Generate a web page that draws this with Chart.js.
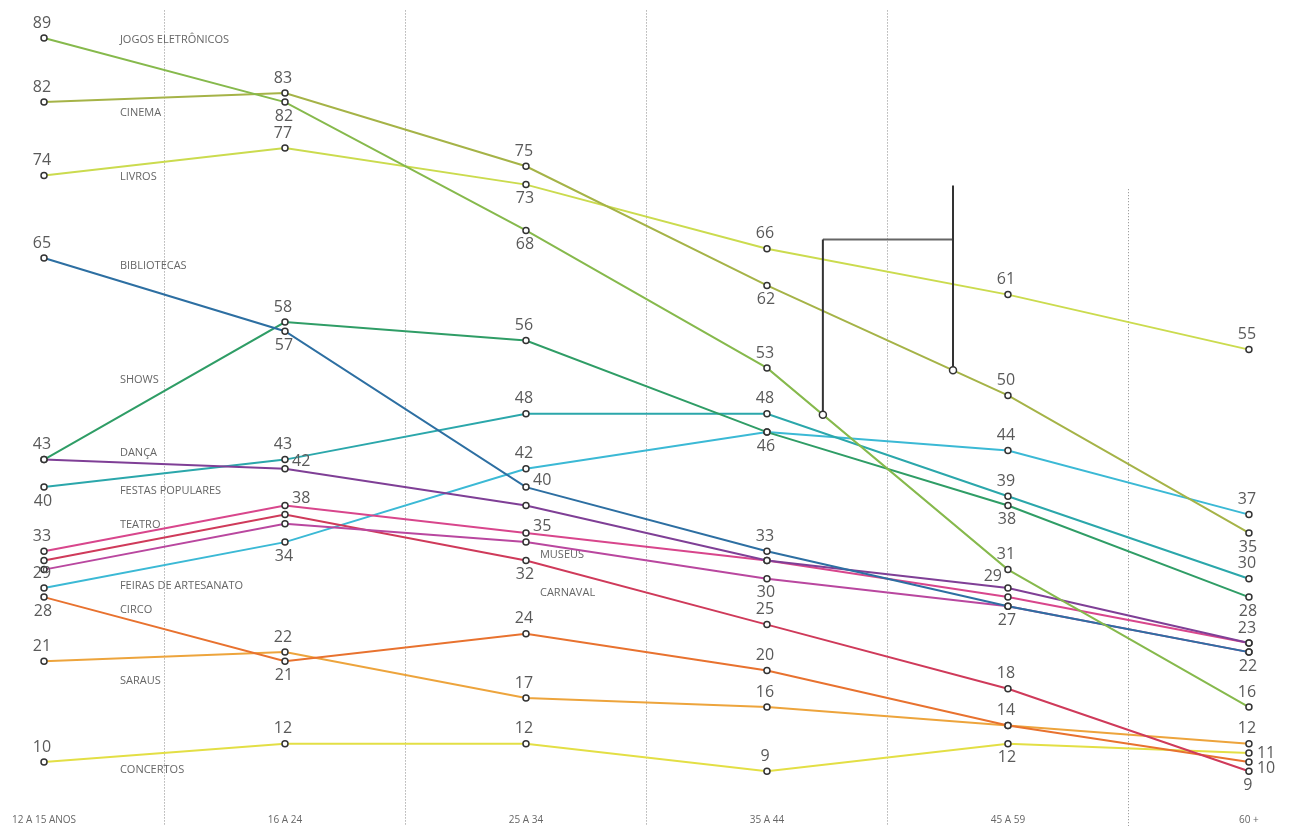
<!DOCTYPE html>
<html>
<head>
<meta charset="utf-8">
<script src="https://cdn.jsdelivr.net/npm/chart.js@4"></script>
<style>
  html, body { margin: 0; padding: 0; background: #fff; }
  #wrap { width: 1294px; height: 826px; }
</style>
</head>
<body>
<div id="wrap"><canvas id="chart"></canvas></div>
<script>
// age groups on the x axis
const ageGroups = ['12 A 15 ANOS', '16 A 24', '25 A 34', '35 A 44', '45 A 59', '60 +'];

// percentages per activity, one value per age group
const jogos = [89, 82, 68, 53, 31, 16];
const cinema = [82, 83, 75, 62, 50, 35];
const livros = [74, 77, 73, 66, 61, 55];
const bibliotecas = [65, 57, 40, 33, 27, 22];
const shows = [43, 58, 56, 46, 38, 28];
const danca = [43, 42, 38, 32, 29, 23];
const festas = [40, 43, 48, 48, 39, 30];
const teatro = [33, 38, 35, 32, 28, 23];
const museus = [31, 36, 34, 30, 27, 22];
const carnaval = [32, 37, 32, 25, 18, 9];
const feiras = [29, 34, 42, 46, 44, 37];
const circo = [28, 21, 24, 20, 14, 10];
const saraus = [21, 22, 17, 16, 14, 12];
const concertos = [10, 12, 12, 9, 12, 11];

// name, values, colour, where each number goes, where the name goes
// a above, b below, r right-up, rm right, rd right-down, l left-up
const series = [
  { name: 'JOGOS ELETRÔNICOS', data: jogos, color: '#86b94c', tags: ['a', 'b', 'b', 'a', 'a', 'a'], spot: [0.315, 88.8] },
  { name: 'CINEMA', data: cinema, color: '#a5b347', tags: ['a', 'a', 'a', 'b', 'a', 'b'], spot: [0.315, 80.8] },
  { name: 'LIVROS', data: livros, color: '#cbdb4e', tags: ['a', 'a', 'b', 'a', 'a', 'a'], spot: [0.315, 73.8] },
  { name: 'BIBLIOTECAS', data: bibliotecas, color: '#2d6fa2', tags: ['a', 'b', 'r', 'a', null, 'b'], spot: [0.315, 64.1] },
  { name: 'SHOWS', data: shows, color: '#2f9d66', tags: ['a', 'a', 'a', 'b', 'b', 'b'], spot: [0.315, 51.7] },
  { name: 'DANÇA', data: danca, color: '#7f3f96', tags: [null, 'r', null, null, 'l', 'a'], spot: [0.315, 43.7] },
  { name: 'FESTAS POPULARES', data: festas, color: '#2ba7ab', tags: ['b', 'a', 'a', 'a', 'a', 'a'], spot: [0.315, 39.6] },
  { name: 'TEATRO', data: teatro, color: '#d8468c', tags: ['a', 'r', 'r', null, null, null], spot: [0.315, 35.9] },
  { name: 'MUSEUS', data: museus, color: '#b9479f', tags: [null, null, null, 'b', 'b', null], spot: [2.058, 32.6] },
  { name: 'CARNAVAL', data: carnaval, color: '#cf3a5a', tags: [null, null, 'b', 'a', 'a', 'b'], spot: [2.058, 28.5] },
  { name: 'FEIRAS DE ARTESANATO', data: feiras, color: '#3bb9d5', tags: ['a', 'b', 'a', null, 'a', 'a'], spot: [0.315, 29.2] },
  { name: 'CIRCO', data: circo, color: '#e8722f', tags: ['b', 'b', 'a', 'a', 'a', 'rd'], spot: [0.315, 26.6] },
  { name: 'SARAUS', data: saraus, color: '#eda43c', tags: ['a', 'a', 'a', 'a', null, 'a'], spot: [0.315, 18.9] },
  { name: 'CONCERTOS', data: concertos, color: '#e3df45', tags: ['a', 'a', 'a', 'a', 'b', 'rm'], spot: [0.315, 9.2] }
];

// the bracket drawn between the crossing lines
const bracket = { left: 3.232, right: 3.772, bar: 67, top: 72.9 };

function lineAt(data, x) {
  const i = Math.floor(x);
  const t = x - i;
  return data[i] + (data[i + 1] - data[i]) * t;
}

const decor = {
  id: 'decor',
  beforeDatasetsDraw(chart) {
    const { ctx, scales: { x, y }, chartArea } = chart;
    ctx.save();
    ctx.strokeStyle = '#8a8a8a';
    ctx.lineWidth = 1;
    ctx.setLineDash([1, 2]);
    for (let i = 0; i < ageGroups.length - 1; i++) {
      const px = Math.round(x.getPixelForValue(i + 0.5)) + 0.5;
      const top = i === ageGroups.length - 2 ? y.getPixelForValue(72.5) : y.getPixelForValue(92);
      ctx.beginPath();
      ctx.moveTo(px, top);
      ctx.lineTo(px, chartArea.bottom);
      ctx.stroke();
    }
    ctx.setLineDash([]);

    // x axis labels
    ctx.fillStyle = '#666';
    ctx.font = '10px "Open Sans"';
    ctx.textBaseline = 'middle';
    ctx.textAlign = 'left';
    ageGroups.forEach((g, i) => {
      const w = ctx.measureText(g).width;
      let left = x.getPixelForValue(i) - w / 2;
      left = Math.max(8, Math.min(left, chartArea.right - w - 8));
      ctx.fillText(g, left, chartArea.bottom - 6);
    });

    // activity names
    ctx.font = '11px "Open Sans"';
    ctx.fillStyle = '#666';
    series.forEach(s => {
      ctx.fillText(s.name, x.getPixelForValue(s.spot[0]), y.getPixelForValue(s.spot[1]));
    });
    ctx.restore();
  },
  afterDatasetsDraw(chart) {
    const { ctx, scales: { x, y } } = chart;
    ctx.save();

    // bracket
    const lx = x.getPixelForValue(bracket.left);
    const rx = x.getPixelForValue(bracket.right);
    const ly = y.getPixelForValue(lineAt(jogos, bracket.left));
    const ry = y.getPixelForValue(lineAt(cinema, bracket.right));
    const by = y.getPixelForValue(bracket.bar);
    const ty = y.getPixelForValue(bracket.top);
    ctx.lineWidth = 2;
    ctx.strokeStyle = '#666';
    ctx.beginPath();
    ctx.moveTo(lx, by);
    ctx.lineTo(rx, by);
    ctx.stroke();
    ctx.strokeStyle = '#333';
    ctx.beginPath();
    ctx.moveTo(lx, ly);
    ctx.lineTo(lx, by);
    ctx.moveTo(rx, ty);
    ctx.lineTo(rx, ry);
    ctx.stroke();
    ctx.lineWidth = 1.5;
    ctx.fillStyle = '#fff';
    [[lx, ly], [rx, ry]].forEach(([px, py]) => {
      ctx.beginPath();
      ctx.arc(px, py, 3.5, 0, Math.PI * 2);
      ctx.fill();
      ctx.stroke();
    });

    // value numbers
    ctx.font = '16px "Open Sans"';
    ctx.fillStyle = '#5a5a5a';
    ctx.textBaseline = 'middle';
    series.forEach(s => {
      s.data.forEach((v, i) => {
        const tag = s.tags[i];
        if (!tag) return;
        const px = x.getPixelForValue(i);
        const py = y.getPixelForValue(v);
        ctx.textAlign = 'center';
        if (tag === 'a') {
          ctx.fillText(v, px - 2, py - 15);
        } else if (tag === 'b') {
          ctx.fillText(v, px - 1, py + 14);
        } else if (tag === 'l') {
          ctx.textAlign = 'right';
          ctx.fillText(v, px - 6, py - 12);
        } else {
          ctx.textAlign = 'left';
          const dy = tag === 'r' ? -7 : tag === 'rm' ? 0 : 6;
          ctx.fillText(v, px + (tag === 'r' ? 7 : 8), py + dy);
        }
      });
    });
    ctx.restore();
  }
};

new Chart(document.getElementById('chart'), {
  type: 'line',
  data: {
    datasets: series.map(s => ({
      label: s.name,
      data: s.data.map((v, i) => ({ x: i, y: v })),
      borderColor: s.color,
      borderWidth: 2,
      pointRadius: 3,
      pointBorderWidth: 1.5,
      pointBorderColor: '#333',
      pointBackgroundColor: '#fff',
      tension: 0,
      clip: false
    }))
  },
  options: {
    responsive: true,
    maintainAspectRatio: false,
    animation: false,
    layout: { padding: 0, autoPadding: false },
    plugins: { legend: { display: false }, tooltip: { enabled: false } },
    scales: {
      x: { type: 'linear', min: -0.1826, max: 5.187, display: false },
      y: { min: 3.03, max: 93.14, display: false }
    }
  },
  plugins: [decor]
});
</script>
</body>
</html>
